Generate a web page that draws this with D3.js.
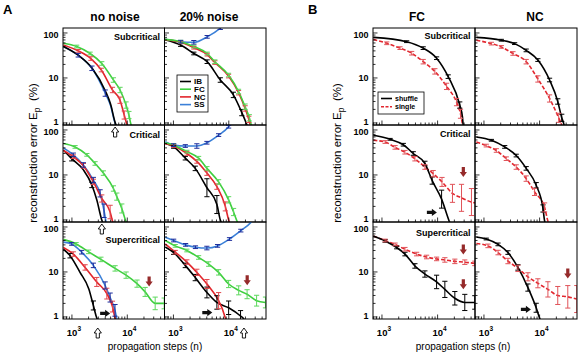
<!DOCTYPE html>
<html>
<head>
<meta charset="utf-8">
<script src="https://cdn.jsdelivr.net/npm/d3@7"></script>
<style>
  body { margin: 0; background: #fff; }
  svg { display: block; font-family: Arial, "Liberation Sans", sans-serif; }
</style>
</head>
<body>
<svg id="chart" width="580" height="355"></svg>
<script>
// ---- data: [steps n, error Ep %, error-bar half width (log10)] ----
// A: no noise
const SS_sub0 = [[700,50,0],[1300,32,0.04],[2300,16.4,0.05],[4000,4.6,0.07],[5000,2.4,0],[6000,1.0,0],[6500,0.8,0]];
const IB_sub0 = [[700,50,0],[1300,32,0],[2300,16.6,0],[4000,5.2,0],[5000,2.6,0],[6000,1.05,0],[6500,0.8,0]];
const NC_sub0 = [[700,54,0],[1300,40,0.03],[2200,27,0.04],[3400,15,0.04],[5400,5.4,0.06],[7400,3.2,0.07],[8800,1.5,0.09],[9800,0.95,0],[10500,0.8,0]];
const FC_sub0 = [[700,59,0],[1220,50,0.03],[2130,35,0.03],[3460,21,0.04],[5620,9,0.05],[7400,5.4,0.06],[9500,2.5,0.07],[10700,1.5,0.08],[11600,0.95,0],[12500,0.8,0]];

const SS_crit0 = [[700,40,0],[1060,28,0.04],[1610,16.7,0.05],[2440,7.7,0.06],[3230,3.9,0.08],[3800,1.6,0.15],[4200,0.8,0]];
const IB_crit0 = [[700,36,0],[993,23,0.05],[1610,13,0],[2290,6,0.06],[2810,2.8,0],[3460,1,0],[3700,0.8,0]];
const NC_crit0 = [[700,35,0],[1060,25.5,0.04],[1610,16,0.05],[2440,7,0.06],[3460,3,0.08],[4900,1.5,0.15],[5400,0.95,0],[5700,0.8,0]];
const FC_crit0 = [[700,50,0],[1140,42,0.03],[1860,28,0.03],[2620,18,0.04],[3700,11,0.05],[5620,5,0.06],[6470,3.3,0.08],[7960,1.8,0.1],[9400,0.95,0],[10000,0.8,0]];

const SS_super0 = [[700,46,0],[993,42,0.03],[1500,27.5,0.04],[2440,14,0.05],[3980,5,0.08],[4900,2.7,0.1],[6000,1.4,0.13],[6500,0.9,0],[6800,0.8,0]];
const IB_super0 = [[700,32,0],[925,23,0.05],[1400,9.8,0],[2020,4.2,0],[2440,1.8,0.1],[2810,0.95,0],[3000,0.8,0]];
const NC_super0 = [[700,35,0],[1060,25,0.05],[1730,12.6,0.06],[2810,6,0.1],[4270,3.3,0.12],[5400,1.7,0.12],[6000,0.95,0],[6300,0.8,0]];
const FC_super0 = [[700,53,0],[1190,42,0.03],[2000,28,0.04],[3340,19,0.05],[6020,12,0.06],[9520,8.5,0.07],[15000,5.5,0.08],[21000,3.6,0.1],[31900,2,0.14],[46400,2,0.12]];

// A: 20% noise
const SS_sub20 = [[700,72,0],[1350,64,0.03],[2340,62,0.04],[4070,82,0.03],[7030,128,0.03],[8500,160,0]];
const IB_sub20 = [[700,71,0],[1350,54,0.03],[2340,35,0.03],[4070,23,0.04],[7030,9,0.05],[12100,4.2,0.06],[17200,1.7,0.07],[20600,1,0],[22000,0.8,0]];
const NC_sub20 = [[700,71,0],[1350,62,0.03],[2340,47,0.03],[4070,33,0.03],[5600,22,0.04],[9900,11,0.04],[15000,4.7,0.05],[19700,2.1,0.06],[23000,1.2,0.07],[24500,0.9,0],[26000,0.8,0]];
const FC_sub20 = [[700,72,0],[1350,64,0.03],[2340,50,0.03],[4070,35,0.03],[5600,23,0.04],[9900,11.6,0.04],[15000,5,0.05],[19700,2.3,0.06],[23500,1.3,0.07],[25200,0.95,0],[27000,0.8,0]];

const SS_crit20 = [[712,55,0],[1010,46,0.03],[1640,44,0.03],[2650,44,0.05],[4030,52,0.03],[6550,77,0.03],[9930,118,0.03],[11000,140,0]];
const IB_crit20 = [[712,50,0],[1010,42,0.03],[1640,23.6,0.04],[2480,14,0.05],[4030,5.2,0.2],[6100,2.2,0.2],[7030,1,0],[7600,0.8,0]];
const NC_crit20 = [[712,50,0],[1010,44,0.03],[1750,30,0.04],[2650,20,0.04],[4030,11,0.05],[6100,5.5,0.06],[8660,2,0.1],[9930,1,0],[10500,0.8,0]];
const FC_crit20 = [[712,52,0],[1010,46,0.03],[1750,33,0.03],[2850,23.6,0.04],[4030,14,0.04],[6550,7,0.05],[9930,2.8,0.07],[12200,1.5,0.08],[14000,0.95,0],[15000,0.8,0]];

const SS_super20 = [[712,59,0],[1010,50,0.03],[1660,40,0.03],[2500,35.5,0.03],[4020,34,0.04],[6270,38,0.03],[10300,54,0.03],[16500,83,0.03],[25300,128,0],[28000,150,0]];
const IB_super20 = [[712,36,0],[1010,27,0.04],[1640,14,0.05],[2480,7.5,0.07],[4030,3.5,0.12],[6100,2.1,0.15],[9930,1.6,0.15],[16300,1.05,0.12],[18700,0.9,0],[20000,0.8,0]];
const NC_super20 = [[712,42,0],[1080,27.5,0.04],[1750,16.6,0.05],[2650,9.8,0.07],[4030,5.4,0.1],[6550,2.3,0.18],[7660,1.5,0],[8660,0.95,0],[9200,0.8,0]];
const FC_super20 = [[712,50,0],[1080,38,0.03],[1750,30,0.03],[2850,21,0.04],[4330,15,0.05],[6550,9.8,0.06],[9930,5.4,0.08],[15100,3.9,0.1],[21400,3.2,0.1],[31800,2.3,0.12],[46000,2.1,0.12]];

// B: shuffle vs single, FC and NC
const shuf_FCsub = [[700,80,0],[2780,64,0.02],[5510,46,0.03],[9590,27.5,0.03],[15500,10.7,0.04],[25000,2.5,0.07],[28000,1.35,0],[28700,0.95,0],[29500,0.8,0]];
const sing_FCsub = [[700,72,0],[1220,59,0.03],[2110,46,0.03],[3420,35.5,0.04],[5510,23,0.05],[8930,14,0.06],[14500,6.5,0.07],[21900,2.9,0.08],[25800,1.6,0.1],[28000,0.95,0],[29000,0.8,0]];
const shuf_NCsub = [[730,80,0],[2050,69,0.02],[3560,58,0.02],[5740,41,0.03],[9310,25,0.03],[15100,9,0.04],[21200,3,0.06],[25000,1.3,0.08],[27200,0.95,0],[28000,0.8,0]];
const sing_NCsub = [[730,69,0],[1360,58,0.03],[2050,49,0.03],[3320,35,0.04],[5740,23,0.05],[9310,9.5,0.07],[15100,3.5,0.08],[22000,1.3,0.1],[24500,0.95,0],[25500,0.8,0]];

const shuf_FCcrit = [[700,76,0],[1400,62,0.02],[2420,47,0.03],[3650,30,0.04],[5910,18,0.05],[8000,7.5,0.08],[11800,2.9,0.2],[16100,0.95,0],[17000,0.8,0]];
const sing_FCcrit = [[700,59,0],[1140,54,0.03],[1720,41,0.04],[2590,32,0.04],[3910,23,0.05],[5910,15,0.05],[8330,10.7,0.07],[12000,7,0.1],[18500,3.9,0.2],[26900,3.1,0.3],[40600,2.5,0.3],[48000,2.4,0]];
const shuf_NCcrit = [[730,70,0],[1360,59,0.02],[2360,42,0.03],[3800,27,0.03],[5740,14,0.04],[8680,5.9,0.06],[11500,1.8,0.08],[12300,0.95,0],[13000,0.8,0]];
const sing_NCcrit = [[730,54,0],[1100,45,0.03],[1670,35,0.04],[2520,23,0.04],[3800,15,0.05],[5740,8.3,0.06],[8120,4.2,0.08],[12300,1.9,0.1],[14100,0.95,0],[15000,0.8,0]];

const shuf_FCsuper = [[700,63,0],[1140,49,0.03],[1840,35,0.03],[2590,25,0.04],[3910,13.6,0.05],[5910,9,0.07],[9590,6,0.15],[13500,4.1,0.18],[20400,2.6,0.15],[30800,2.1,0.18],[46600,2.1,0.15]];
const sing_FCsuper = [[700,63,0],[1140,50,0.03],[1720,41,0.03],[2590,32,0.04],[4200,25,0.04],[6340,21.5,0.04],[9590,19.5,0.04],[13500,18.5,0.05],[20400,17.2,0.05],[30800,16.5,0.05],[46600,15.5,0.05]];
const shuf_NCsuper = [[730,60,0],[1100,54,0.02],[1790,41,0.03],[2700,27,0.04],[4080,12.6,0.06],[6170,4.5,0.08],[8680,1.6,0.1],[9980,0.95,0],[10500,0.8,0]];
const sing_NCsuper = [[730,43,0],[1180,38,0.04],[1790,27,0.05],[2700,17.5,0.06],[4080,12,0.07],[6170,7.8,0.09],[9310,5.6,0.1],[14100,4.1,0.17],[21200,3,0.2],[32100,2.8,0.25],[46600,2.5,0.3]];

// annotations: [block, col, row, n, Ep]
const openArrowN = [['A',0,0,6030],['A',0,1,3470],['A',0,2,2930],['A',1,2,18800]];
const rightArrowPts = [['A',0,2,3980,1.2],['A',1,2,4090,1.25],['B',0,1,7890,1.47],['B',1,2,5670,1.47]];
const downArrowPts = [['A',0,2,24800,6.1],['A',1,2,21500,6.5],['B',0,1,29000,11.7],['B',0,2,29000,31.6],['B',0,2,29000,5.3],['B',1,2,32100,9.3]];

const colTitles = {A: ['no noise', '20% noise'], B: ['FC', 'NC']};
const rowLabels = ['Subcritical', 'Critical', 'Supercritical'];
const yTickVals = [1, 10, 100];
const xTickExps = [3, 4];

// ---- layout ----
const svg = d3.select('#chart');
const NMIN = 690, NMAX = 47000, EMIN = 0.9, EMAX = 129;
const TOP = 28, ROWH = 97;
const blocks = {
  A: {x0: 63, w: 101.5, titleX: [115, 209], xlabX: 155, ylabX: 37, labDy: [11.5, 13, 20.5]},
  B: {x0: 373, w: 102, titleX: [417, 535], xlabX: 463, ylabX: 341, labDy: [11, 12, 14]}
};
const styles = {
  IB: {line: '#000', bar: '#000'},
  FC: {line: '#3fcf3f', bar: '#5dd85d'},
  NC: {line: '#e2252b', bar: '#e2474d'},
  SS: {line: '#3b80d8', bar: '#1d2d9c'},
  shuffle: {line: '#000', bar: '#000'},
  single: {line: '#e2262e', bar: '#e05359', dash: '4,2'}
};

const panels = [
  {b:'A', c:0, r:0, s:[['SS',SS_sub0],['IB',IB_sub0],['NC',NC_sub0],['FC',FC_sub0]]},
  {b:'A', c:1, r:0, s:[['SS',SS_sub20],['IB',IB_sub20],['NC',NC_sub20],['FC',FC_sub20]]},
  {b:'A', c:0, r:1, s:[['SS',SS_crit0],['IB',IB_crit0],['NC',NC_crit0],['FC',FC_crit0]]},
  {b:'A', c:1, r:1, s:[['SS',SS_crit20],['IB',IB_crit20],['NC',NC_crit20],['FC',FC_crit20]]},
  {b:'A', c:0, r:2, s:[['SS',SS_super0],['IB',IB_super0],['NC',NC_super0],['FC',FC_super0]]},
  {b:'A', c:1, r:2, s:[['SS',SS_super20],['IB',IB_super20],['NC',NC_super20],['FC',FC_super20]]},
  {b:'B', c:0, r:0, s:[['single',sing_FCsub],['shuffle',shuf_FCsub]]},
  {b:'B', c:1, r:0, s:[['single',sing_NCsub],['shuffle',shuf_NCsub]]},
  {b:'B', c:0, r:1, s:[['single',sing_FCcrit],['shuffle',shuf_FCcrit]]},
  {b:'B', c:1, r:1, s:[['single',sing_NCcrit],['shuffle',shuf_NCcrit]]},
  {b:'B', c:0, r:2, s:[['single',sing_FCsuper],['shuffle',shuf_FCsuper]]},
  {b:'B', c:1, r:2, s:[['single',sing_NCsuper],['shuffle',shuf_NCsuper]]}
];

function frame(b, c, r) {
  const blk = blocks[b];
  const x0 = blk.x0 + c * blk.w, y0 = TOP + r * ROWH;
  const x = d3.scaleLog().domain([NMIN, NMAX]).range([x0, x0 + blk.w]);
  const y = d3.scaleLog().domain([EMIN, EMAX]).range([y0 + ROWH, y0]);
  return {x, y, x0, y0, w: blk.w};
}

const barOrder = ['IB', 'NC', 'FC', 'SS', 'shuffle', 'single'];

panels.forEach((p, i) => {
  const f = frame(p.b, p.c, p.r);
  svg.append('clipPath').attr('id', 'clip' + i)
    .append('rect').attr('x', f.x0).attr('y', f.y0).attr('width', f.w).attr('height', ROWH);
  const g = svg.append('g').attr('clip-path', 'url(#clip' + i + ')');

  const line = d3.line()
    .x(d => f.x(d[0]))
    .y(d => f.y(d[1]))
    .curve(d3.curveMonotoneX);

  // lines
  p.s.forEach(([key, data]) => {
    const st = styles[key];
    g.append('path')
      .datum(data)
      .attr('d', line)
      .attr('fill', 'none')
      .attr('stroke', st.line)
      .attr('stroke-width', 1.6)
      .attr('stroke-dasharray', st.dash || null)
      .attr('stroke-linejoin', 'round');
  });

  // error bars
  const sorted = p.s.slice().sort((a, b) => barOrder.indexOf(a[0]) - barOrder.indexOf(b[0]));
  sorted.forEach(([key, data]) => {
    const st = styles[key];
    const pts = data.filter(d => d[2] > 0);
    const eg = g.append('g').attr('stroke', st.bar).attr('stroke-width', 1);
    pts.forEach(d => {
      const cx = f.x(d[0]);
      const lo = f.y(d[1] / Math.pow(10, d[2]));
      const hi = f.y(d[1] * Math.pow(10, d[2]));
      eg.append('line').attr('x1', cx).attr('x2', cx).attr('y1', lo).attr('y2', hi);
      eg.append('line').attr('x1', cx - 2.6).attr('x2', cx + 2.6).attr('y1', lo).attr('y2', lo);
      eg.append('line').attr('x1', cx - 2.6).attr('x2', cx + 2.6).attr('y1', hi).attr('y2', hi);
    });
  });

  // inside ticks (bottom and left)
  const xt = f.x.ticks().filter(v => v >= NMIN && v <= NMAX);
  const yt = f.y.ticks().filter(v => v >= 1 && v <= 100);
  const isMajor = v => Math.abs(Math.log10(v) - Math.round(Math.log10(v))) < 1e-9;
  const tg = svg.append('g').attr('stroke', '#000').attr('stroke-width', 0.8);
  xt.forEach(v => {
    const len = isMajor(v) ? 4.5 : 2.5;
    tg.append('line').attr('x1', f.x(v)).attr('x2', f.x(v))
      .attr('y1', f.y0 + ROWH).attr('y2', f.y0 + ROWH - len);
  });
  yt.forEach(v => {
    const len = isMajor(v) ? 4.5 : 2.5;
    tg.append('line').attr('x1', f.x0).attr('x2', f.x0 + len)
      .attr('y1', f.y(v)).attr('y2', f.y(v));
  });

  // frame
  svg.append('rect')
    .attr('x', f.x0).attr('y', f.y0).attr('width', f.w).attr('height', ROWH)
    .attr('fill', 'none').attr('stroke', '#000').attr('stroke-width', 1);

  if (p.c === 0) {
    // y tick labels, nudged apart where rows meet
    yTickVals.forEach(v => {
      const nudge = v === 1 ? -1.5 : (v === 100 ? 1.5 : 0);
      svg.append('text')
        .attr('x', f.x0 - 4.5).attr('y', f.y(v) + nudge).attr('dy', '0.35em')
        .attr('text-anchor', 'end').attr('font-size', 9).attr('font-weight', 'bold')
        .text(d3.format('d')(v));
    });
    // regime label
    svg.append('text')
      .attr('x', f.x0 + f.w - 4.5)
      .attr('y', f.y0 + blocks[p.b].labDy[p.r])
      .attr('text-anchor', 'end').attr('font-size', 9).attr('font-weight', 'bold')
      .text(rowLabels[p.r]);
  }

  // x tick labels on last row
  if (p.r === 2) {
    xTickExps.forEach(e => {
      const t = svg.append('text')
        .attr('x', f.x(Math.pow(10, e)) + 2).attr('y', f.y0 + ROWH + 16.5)
        .attr('text-anchor', 'middle').attr('font-size', 9.5).attr('font-weight', 'bold');
      t.append('tspan').text('10');
      t.append('tspan').attr('dy', -4.5).attr('font-size', 6.5).text(e);
    });
  }
});

// ---- legends ----
function legend(b, c, r, dx, dy, w, h, keys, fs, rowH) {
  const f = frame(b, c, r);
  const lg = svg.append('g').attr('transform', 'translate(' + (f.x0 + dx) + ',' + (f.y0 + dy) + ')');
  lg.append('rect').attr('width', w).attr('height', h).attr('fill', '#fff')
    .attr('stroke', '#000').attr('stroke-width', 0.8);
  keys.forEach(([key, label], i) => {
    const yy = 6.5 + i * rowH;
    lg.append('line').attr('x1', 3).attr('x2', 14).attr('y1', yy).attr('y2', yy)
      .attr('stroke', styles[key].line).attr('stroke-width', 1.6)
      .attr('stroke-dasharray', styles[key].dash ? '3,1.5' : null);
    lg.append('text').attr('x', 17).attr('y', yy + fs * 0.36)
      .attr('font-size', fs).attr('font-weight', 'bold').text(label);
  });
}
legend('A', 1, 0, 12.5, 47, 31, 37, [['IB','IB'],['FC','FC'],['NC','NC'],['SS','SS']], 8, 7.7);
legend('B', 0, 0, 5, 64, 46, 22, [['shuffle','shuffle'],['single','single']], 7, 8.3);

// ---- arrows ----
const downPath = 'M-1.6,-5L1.6,-5L1.6,0L3.6,0L0,5L-3.6,0L-1.6,0Z';
downArrowPts.forEach(([b, c, r, n, e]) => {
  const f = frame(b, c, r);
  svg.append('path').attr('d', downPath)
    .attr('transform', 'translate(' + f.x(n) + ',' + f.y(e) + ')')
    .attr('fill', '#952a2a');
});
rightArrowPts.forEach(([b, c, r, n, e]) => {
  const f = frame(b, c, r);
  svg.append('path').attr('d', downPath)
    .attr('transform', 'translate(' + f.x(n) + ',' + f.y(e) + ') rotate(-90)')
    .attr('fill', '#111');
});
openArrowN.forEach(([b, c, r, n]) => {
  const f = frame(b, c, r);
  const cy = f.y0 + ROWH + (r === 2 ? 14 : 7);
  svg.append('path').attr('d', downPath)
    .attr('transform', 'translate(' + f.x(n) + ',' + cy + ') rotate(180)')
    .attr('fill', '#fff').attr('stroke', '#000').attr('stroke-width', 0.9);
});

// ---- titles and axis labels ----
Object.keys(blocks).forEach(b => {
  const blk = blocks[b];
  colTitles[b].forEach((t, i) => {
    svg.append('text').attr('x', blk.titleX[i]).attr('y', 21)
      .attr('text-anchor', 'middle').attr('font-size', 12).attr('font-weight', 'bold').text(t);
  });
  svg.append('text').attr('x', blk.xlabX).attr('y', 350)
    .attr('text-anchor', 'middle').attr('font-size', 10).text('propagation steps (n)');
  const yl = svg.append('text')
    .attr('transform', 'translate(' + blk.ylabX + ',153) rotate(-90)')
    .attr('text-anchor', 'middle').attr('font-size', 11.5);
  yl.append('tspan').text('reconstruction error E');
  yl.append('tspan').attr('dy', 3).attr('font-size', 8.5).text('p');
  yl.append('tspan').attr('dy', -3).text('\u00a0 (%)');
});
svg.append('text').attr('x', 3).attr('y', 14).attr('font-size', 13).attr('font-weight', 'bold').text('A');
svg.append('text').attr('x', 308).attr('y', 14).attr('font-size', 13).attr('font-weight', 'bold').text('B');
</script>
</body>
</html>
